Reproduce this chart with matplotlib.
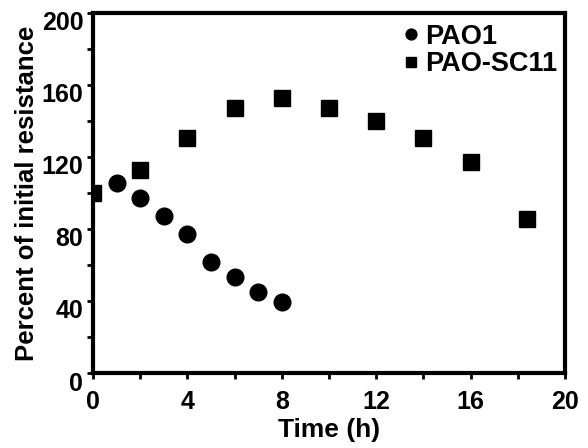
import matplotlib.pyplot as plt
import matplotlib.transforms as mtransforms
from matplotlib.ticker import MultipleLocator

# Data
pao1_time = [1, 2, 3, 4, 5, 6, 7, 8]
pao1_resist = [105.7, 97.4, 87.2, 77, 61.5, 53.2, 45, 39.3]

sc11_time = [0, 2, 4, 6, 8, 10, 12, 14, 16, 18.4]
sc11_resist = [100, 112.8, 130.4, 147, 152.6, 147, 140.2, 130.7, 117, 85.6]

plt.rcParams['font.family'] = ['Liberation Sans', 'DejaVu Sans']
plt.rcParams['font.weight'] = 'bold'

fig = plt.figure(figsize=(5.88, 4.48), dpi=100)
ax = fig.add_axes([93 / 588, 1 - 373 / 448, 472 / 588, 360 / 448])

ax.plot(pao1_time, pao1_resist, 'o', color='black', markersize=12, label='PAO1')
ax.plot(sc11_time, sc11_resist, 's', color='black', markersize=11.5, label='PAO-SC11')

ax.set_xlim(0, 20)
ax.set_ylim(0, 200)
ax.xaxis.set_major_locator(MultipleLocator(4))
ax.xaxis.set_minor_locator(MultipleLocator(2))
ax.yaxis.set_major_locator(MultipleLocator(40))
ax.yaxis.set_minor_locator(MultipleLocator(20))
ax.tick_params(which='both', direction='out', width=2, length=4, labelsize=18, pad=3)
ax.tick_params(axis='x', pad=8)

for s in ax.spines.values():
    s.set_linewidth(3)
    s.set_clip_on(False)

# the y labels sit a little low in the original
offset = mtransforms.ScaledTranslation(0, -8 / 100, fig.dpi_scale_trans)
for lab in ax.get_yticklabels():
    lab.set_transform(lab.get_transform() + offset)

ax.set_xlabel('Time (h)', fontsize=19, fontweight='bold', labelpad=3)
ax.set_ylabel('Percent of initial resistance', fontsize=18.5, fontweight='bold', labelpad=2)

leg = ax.legend(loc='upper left', bbox_to_anchor=(0.64, 1.0), frameon=False,
                fontsize=19.5, markerscale=0.65, handlelength=0.4, handletextpad=0.3,
                labelspacing=0.05, borderaxespad=0)

fig.savefig('out.png', dpi=100)
